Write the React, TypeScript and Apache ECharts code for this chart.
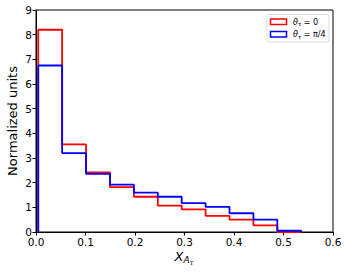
import React, { useEffect, useRef } from "react";
import * as echarts from "echarts";

const binEdges = [0.0045, 0.0528, 0.1011, 0.1494, 0.1977, 0.246, 0.2943, 0.3426, 0.3909, 0.4392, 0.4875, 0.5358];
const redValues = [8.2, 3.55, 2.42, 1.82, 1.43, 1.07, 0.92, 0.65, 0.5, 0.27, 0];
const blueValues = [6.75, 3.2, 2.36, 1.92, 1.6, 1.43, 1.17, 1.02, 0.76, 0.5, 0.05];
const xTicks = [0, 0.1, 0.2, 0.3, 0.4, 0.5, 0.6];
const yTicks = [0, 1, 2, 3, 4, 5, 6, 7, 8, 9];

function stepPoints(edges: number[], vals: number[]) {
  const pts: number[][] = [[edges[0], 0]];
  vals.forEach((v, i) => {
    pts.push([edges[i], v]);
    pts.push([edges[i + 1], v]);
  });
  pts.push([edges[vals.length], 0]);
  return pts;
}

const font = "DejaVu Sans";

export default function App() {
  const ref = useRef<HTMLDivElement>(null);
  useEffect(() => {
    if (!ref.current) return;
    const chart = echarts.init(ref.current, null, { renderer: "svg" });
    chart.setOption({
      animation: false,
      grid: { left: 36, right: 16, top: 10, bottom: 41, show: true, borderColor: "#000", borderWidth: 1, backgroundColor: "transparent" },
      xAxis: {
        type: "value",
        min: xTicks[0],
        max: xTicks[xTicks.length - 1],
        interval: 0.1,
        axisLine: { show: true, onZero: false, lineStyle: { color: "#000", width: 1 } },
        axisTick: { show: true, inside: false, length: 3.5, lineStyle: { color: "#000" } },
        axisLabel: { color: "#000", fontFamily: font, fontSize: 10.5, margin: 4, formatter: (v: number) => v.toFixed(1) },
        splitLine: { show: false },
      },
      yAxis: {
        type: "value",
        min: yTicks[0],
        max: yTicks[yTicks.length - 1],
        interval: 1,
        axisLine: { show: true, lineStyle: { color: "#000", width: 1 } },
        axisTick: { show: true, inside: false, length: 3.5, lineStyle: { color: "#000" } },
        axisLabel: { color: "#000", fontFamily: font, fontSize: 10.5, margin: 4 },
        splitLine: { show: false },
      },
      series: [
        {
          type: "line",
          name: "red",
          data: stepPoints(binEdges, redValues),
          showSymbol: false,
          lineStyle: { color: "#ff0000", width: 1.8 },
          z: 2,
        },
        {
          type: "line",
          name: "blue",
          data: stepPoints(binEdges, blueValues),
          showSymbol: false,
          lineStyle: { color: "#0000ff", width: 1.8 },
          z: 3,
        },
      ],
      graphic: [
        {
          type: "text",
          rotation: Math.PI / 2,
          x: 12,
          y: 121,
          style: { text: "Normalized units", fontFamily: font, fontSize: 13, fill: "#000", align: "center", verticalAlign: "middle" },
        },
        {
          type: "text",
          x: 184,
          y: 256,
          style: {
            text: "{x|X}{a|A}{t|τ}",
            align: "center",
            verticalAlign: "middle",
            rich: {
              x: { fontFamily: font, fontStyle: "italic", fontSize: 13, fill: "#000" },
              a: { fontFamily: font, fontStyle: "italic", fontSize: 9, fill: "#000", padding: [7, 0, 0, 0] },
              t: { fontFamily: font, fontStyle: "italic", fontSize: 6.5, fill: "#000", padding: [13, 0, 0, 0] },
            },
          },
        },
        {
          type: "rect",
          shape: { x: 267, y: 14.5, width: 62, height: 27.5, r: 2 },
          style: { fill: "rgba(255,255,255,0.8)", stroke: "#d0d0d0", lineWidth: 0.8 },
          z: 10,
        },
        {
          type: "rect",
          shape: { x: 270.5, y: 19, width: 16, height: 5.5 },
          style: { fill: "none", stroke: "#ff0000", lineWidth: 1.5 },
          z: 11,
        },
        {
          type: "rect",
          shape: { x: 270.5, y: 31.5, width: 16, height: 5.5 },
          style: { fill: "none", stroke: "#0000ff", lineWidth: 1.5 },
          z: 11,
        },
        {
          type: "text",
          x: 293,
          y: 22,
          z: 11,
          style: {
            text: "{i|θ}{s|τ}{n| = 0}",
            verticalAlign: "middle",
            rich: {
              i: { fontFamily: font, fontStyle: "italic", fontSize: 8, fill: "#000" },
              s: { fontFamily: font, fontSize: 5.5, fill: "#000", padding: [4, 0, 0, 0] },
              n: { fontFamily: font, fontSize: 8, fill: "#000" },
            },
          },
        },
        {
          type: "text",
          x: 293,
          y: 34.5,
          z: 11,
          style: {
            text: "{i|θ}{s|τ}{n| = π/4}",
            verticalAlign: "middle",
            rich: {
              i: { fontFamily: font, fontStyle: "italic", fontSize: 8, fill: "#000" },
              s: { fontFamily: font, fontSize: 5.5, fill: "#000", padding: [4, 0, 0, 0] },
              n: { fontFamily: font, fontSize: 8, fill: "#000" },
            },
          },
        },
      ],
    });
    return () => chart.dispose();
  }, []);
  return <div ref={ref} style={{ width: 349, height: 273, position: "absolute", left: 0, top: 0 }} />;
}
